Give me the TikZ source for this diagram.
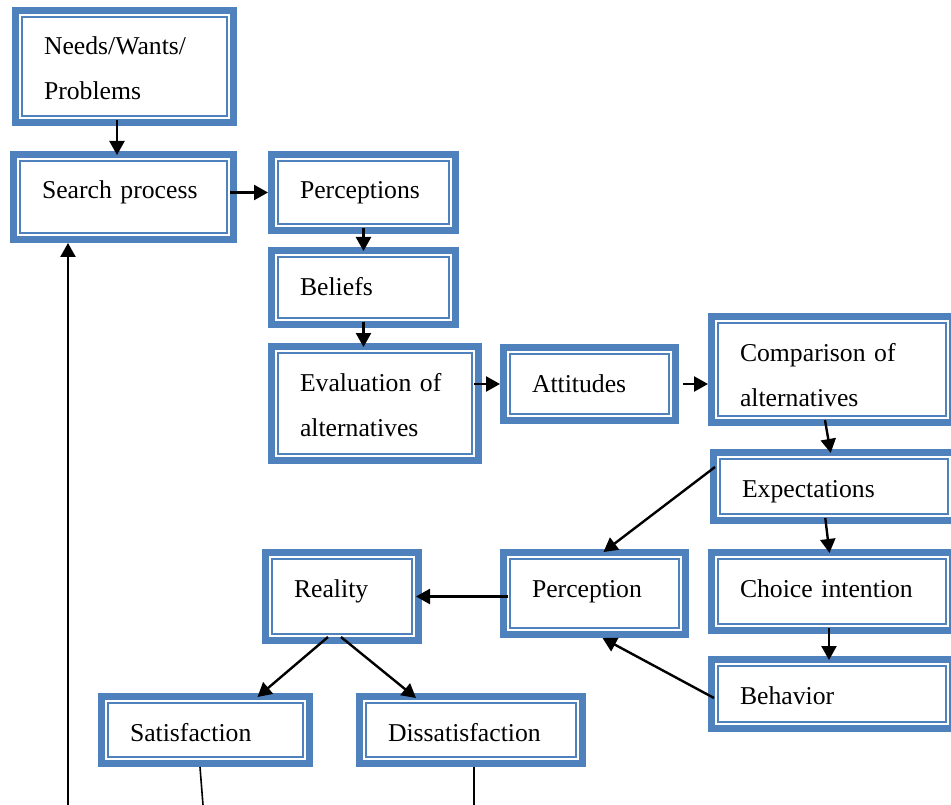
\documentclass[tikz,border=0pt]{standalone}
\usepackage{fontspec}
\setmainfont{Liberation Serif}
\usetikzlibrary{arrows.meta}
\definecolor{boxblue}{RGB}{79,129,189}
\newcommand{\bxfont}{\fontsize{25.7}{45}\selectfont}

\begin{document}
\begin{tikzpicture}[x=1pt, y=-1pt,
    box/.style = {draw=boxblue, line width=7pt, outer sep=3.5pt, inner xsep=28.5pt,
      inner ysep=0pt, anchor=north west, align=left, text height=44.5pt, font=\bxfont},
    inframe/.style = {draw=boxblue, line width=1.8pt},
    arr/.style = {line width=2.4pt, -{Triangle[length=14pt,width=15pt]}},
    short/.style = {shorten <=-6pt, shorten >=-4pt},
    thinln/.style = {line width=1.6pt}]
    \useasboundingbox (0,0) rectangle (951,805);
    \clip (0,0) rectangle (951,805);

    \node[box, text width=161pt, text depth=67.5pt] (Need) at (12,7) {Needs/Wants/\\Problems};
    \node[box, text width=163pt, text depth=40.5pt] (Search) at (10,151) {Search process};
    \node[box, text width=127pt, text depth=31.5pt] (Perc) at (268,151) {Perceptions};
    \node[box, text width=127pt, text depth=29.5pt] (Bel) at (268,247) {Beliefs};
    \node[box, text width=150pt, text depth=69.5pt] (Eval) at (268,343) {Evaluation of\\alternatives};
    \node[box, text width=115pt, text depth=28.5pt] (Att) at (500,344) {Attitudes};
    \node[box, text width=184pt, text depth=61.5pt] (Comp) at (708,313) {Comparison of\\alternatives};
    \node[box, text width=184pt, text depth=23.5pt] (Exp) at (710,449) {Expectations};
    \node[box, text width=184pt, text depth=33.5pt] (Choice) at (708,549) {Choice intention};
    \node[box, text width=184pt, text depth=24.5pt] (Beh) at (708,656) {Behavior};
    \node[box, text width=125pt, text depth=37.5pt] (Per) at (500,549) {Perception};
    \node[box, text width=96pt, text depth=43.5pt] (Real) at (262,549) {Reality};
    \node[box, text width=151pt, text depth=22.5pt] (Sat) at (98,693) {Satisfaction};
    \node[box, text width=166pt, text depth=22.5pt] (Dis) at (356,693) {Dissatisfaction};

    \foreach \n in {Need,Search,Perc,Bel,Eval,Att,Comp,Exp,Choice,Beh,Per,Real,Sat,Dis}
      \draw[inframe] ([shift={(10pt,10pt)}]\n.south west) rectangle ([shift={(-10pt,-10pt)}]\n.north east);

    \coordinate (Loop) at (68,805);
    \coordinate (SatEnd) at (203,805);
    \coordinate (DisEnd) at (474,805);

    \draw[arr, short] ([xshift=-7.5pt]Need.south) -- ([xshift=-7.5pt]Need.south |- Search.north);
    \draw[arr] ([xshift=-7pt]Search.east |- Perc.west) -- (Perc.west);
    \draw[arr, short] (Perc.south) -- (Bel.north);
    \draw[arr, short] (Bel.south) -- (Bel.south |- Eval.north);
    \draw[arr] ([xshift=-8pt]Eval.east |- Att.west) -- (Att.west);
    \draw[arr] ([xshift=4pt]Att.east) -- (Att.east -| Comp.west);
    \draw[arr, short] ([xshift=-6pt]Comp.south) -- ([xshift=-4pt]Exp.north);
    \draw[arr] ([shift={(5pt,19.5pt)}]Exp.west) -- ([shift={(9pt,-3pt)}]Per.north);
    \draw[arr, short] ([xshift=-8pt]Exp.south) -- ([xshift=-3pt]Choice.north);
    \draw[arr, short] ([xshift=-3pt]Choice.south) -- ([xshift=-3pt]Choice.south |- Beh.north);
    \draw[arr] ([shift={(6pt,-4pt)}]Beh.west) -- ([xshift=8pt]Per.south);
    \draw[arr] ([shift={(8pt,-3pt)}]Per.west) -- ([xshift=-6pt]Real.east);
    \draw[arr] ([shift={(-14pt,7pt)}]Real.south) -- ([shift={(52pt,-4pt)}]Sat.north);
    \draw[arr] ([shift={(-1pt,7pt)}]Real.south) -- ([shift={(-55pt,-5pt)}]Dis.north);
    \draw[thinln] ([xshift=-5.5pt]Sat.south) -- (SatEnd);
    \draw[thinln] ([xshift=3pt]Dis.south) -- (DisEnd);
    \draw[arr] (Loop) -- (Loop |- Search.south);
\end{tikzpicture}
\end{document}
